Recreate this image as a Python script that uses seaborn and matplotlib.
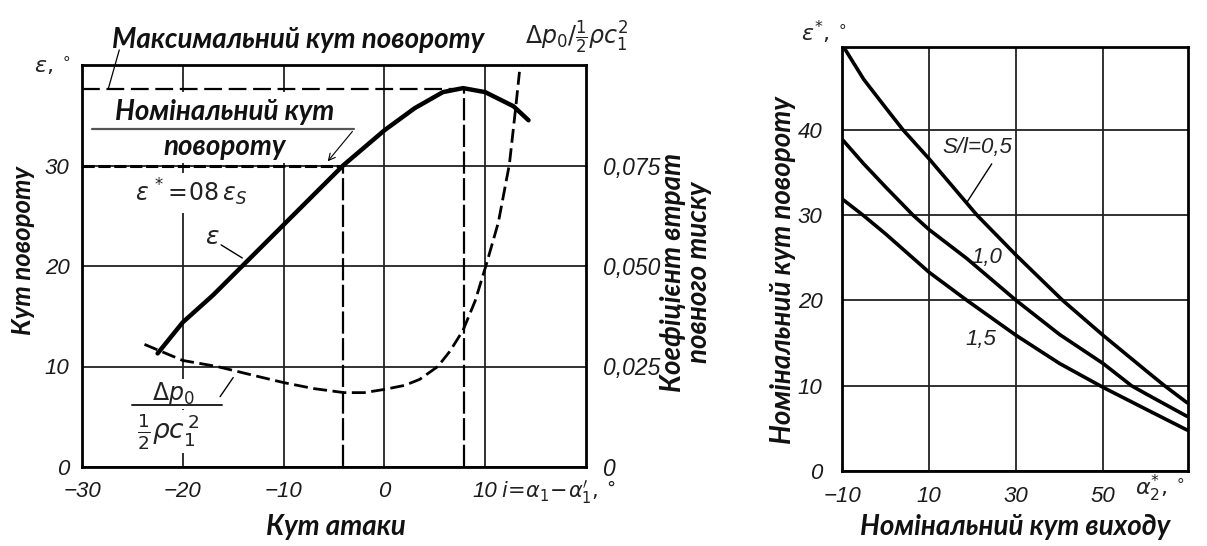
import numpy as np
import pandas as pd
import matplotlib
matplotlib.use("Agg")
import matplotlib.pyplot as plt
import seaborn as sns

# ---------------- data: left panel ----------------
attack_angle = [-22.5, -20.0, -17.0, -14.1, -10.0, -4.1, 0.0, 3.0, 5.8, 7.8, 10.0, 12.8, 14.3]
turning_angle = [11.3, 14.4, 17.1, 20.0, 24.1, 30.0, 33.5, 35.7, 37.3, 37.7, 37.3, 35.9, 34.5]

loss_angle = [-23.8, -20.0, -16.6, -13.0, -10.0, -7.0, -4.0, -2.0, 0.0, 2.0, 3.5, 5.3,
              6.5, 7.8, 9.0, 10.1, 11.3, 12.4, 13.0, 13.4]
loss_coef = [0.0305, 0.0265, 0.0250, 0.0228, 0.0210, 0.0195, 0.0185, 0.0185, 0.0193, 0.0203,
             0.0218, 0.0250, 0.0288, 0.0340, 0.0413, 0.0503, 0.0608, 0.0753, 0.0888, 0.0983]

eps_nominal = 30.0
i_nominal = -4.1
eps_max = 37.6
i_max = 7.9

left_xticks = [-30, -20, -10, 0, 10]
left_yticks = [0, 10, 20, 30]
loss_ticks = [0, 0.025, 0.050, 0.075]
loss_ticklabels = ["0", "0,025", "0,050", "0,075"]

# ---------------- data: right panel ----------------
s05_x = [-9.5, -5.0, 0.0, 4.0, 10.0, 21.0, 30.0, 40.7, 50.0, 60.0, 64.1, 69.3]
s05_y = [49.6, 45.9, 42.6, 40.0, 36.6, 30.0, 25.3, 20.0, 15.9, 11.7, 10.0, 8.0]
s10_x = [-10.0, -5.0, 0.0, 6.3, 10.0, 18.7, 30.0, 40.0, 50.0, 56.5, 60.0, 69.3]
s10_y = [38.9, 36.0, 33.3, 30.0, 28.3, 24.9, 20.0, 16.0, 12.6, 10.0, 9.0, 6.4]
s15_x = [-10.0, -5.2, 0.0, 10.0, 18.7, 30.0, 40.0, 50.0, 60.0, 69.3]
s15_y = [31.9, 30.0, 27.8, 23.3, 20.0, 15.9, 12.6, 9.8, 7.2, 4.8]

right_xticks = [-10, 10, 30, 50]
right_yticks = [0, 10, 20, 30, 40]

# ---------------- style ----------------
sns.set_theme(style="white")
plt.rcParams["font.family"] = ["DejaVu Sans"]
plt.rcParams["mathtext.fontset"] = "dejavusans"

LABEL_FONT = ["Lato", "DejaVu Sans"]
TICK_FONT = ["Liberation Sans Narrow", "Liberation Sans", "DejaVu Sans"]
INK = "#1a1a1a"

W, H = 1207, 546
fig = plt.figure(figsize=(W / 100, H / 100), dpi=100)
fig.patch.set_facecolor("white")


def px(x, y):
    return x / W, 1 - y / H


ax_l = fig.add_axes([82 / W, 1 - 467 / H, (586 - 82) / W, (467 - 65) / H])
ax_r = fig.add_axes([842 / W, 1 - 471 / H, (1188 - 842) / W, (471 - 47) / H])

for ax in (ax_l, ax_r):
    ax.set_facecolor("white")
    for s in ax.spines.values():
        s.set_color("black")
        s.set_linewidth(2.0)
    ax.grid(True, color="#222222", linewidth=1.3)
    ax.set_axisbelow(True)
    ax.tick_params(length=0)

# ---- left panel ----
ax_l.set_xlim(-30, 20)
ax_l.set_ylim(0, 40)
ax_l.set_xticks(left_xticks)
ax_l.set_xticklabels([str(v).replace("-", "\u2212") for v in left_xticks])
ax_l.set_yticks(left_yticks)
ax_l.set_yticklabels([str(v) for v in left_yticks])
ax_l.tick_params(axis="x", pad=10)
ax_l.tick_params(axis="y", pad=9)
for lab in ax_l.get_xticklabels() + ax_l.get_yticklabels():
    lab.set_family(TICK_FONT)
    lab.set_style("italic")
    lab.set_fontsize(16)
    lab.set_color(INK)

sns.lineplot(x=attack_angle, y=turning_angle, ax=ax_l, color="black", linewidth=3.2,
             sort=False, estimator=None, zorder=5)

ax_l.hlines(eps_nominal, -30, i_nominal, colors="black", linewidth=2.2,
            linestyles=(0, (4, 1.2)), zorder=4)
ax_l.vlines(i_nominal, 0, eps_nominal, colors="black", linewidth=1.6,
            linestyles=(0, (10, 2)), zorder=4)
ax_l.hlines(eps_max, -30, i_max, colors="black", linewidth=1.6,
            linestyles=(0, (8, 3)), zorder=4)
ax_l.vlines(i_max, 0, eps_max, colors="black", linewidth=1.6,
            linestyles=(0, (10, 2)), zorder=4)

ax_t = ax_l.twinx()
ax_t.set_ylim(0, 0.1)
ax_t.set_yticks(loss_ticks)
ax_t.set_yticklabels(loss_ticklabels)
ax_t.tick_params(length=0, pad=12)
ax_t.grid(False)
for s in ax_t.spines.values():
    s.set_visible(False)
for lab in ax_t.get_yticklabels():
    lab.set_family(TICK_FONT)
    lab.set_style("italic")
    lab.set_fontsize(16.5)
    lab.set_color(INK)
sns.lineplot(x=loss_angle, y=loss_coef, ax=ax_t, color="black", linewidth=2.0,
             linestyle=(0, (5, 2)), sort=False, estimator=None)
ax_t.set_xlim(-30, 20)

lab_kw = dict(family=LABEL_FONT, weight="bold", style="italic", color="#111111")

# header labels of the left panel
fig.text(*px(112, 40), "Максимальний кут повороту", ha="left", va="center",
         fontsize=20, **lab_kw)
ax_l.plot([-26.3, -27.4], [41.5, 37.6], color="black", lw=0.9, clip_on=False)

ax_l.text(-15.9, 35.3, "Номінальний кут", ha="center", va="center", fontsize=20,
          bbox=dict(facecolor="white", edgecolor="none", pad=5), zorder=6, **lab_kw)
ax_l.plot([-29.0, -3.0], [33.6, 33.6], color="#555555", lw=1.6, zorder=7)
ax_l.text(-15.8, 31.8, "повороту", ha="center", va="center", fontsize=20,
          bbox=dict(facecolor="white", edgecolor="none", pad=2), zorder=6, **lab_kw)
ax_l.annotate("", xy=(-5.8, 30.2), xytext=(-3.0, 33.6),
              arrowprops=dict(arrowstyle="->", color="black", lw=0.8), zorder=8)

ax_l.text(-19.2, 27.3, r"$\varepsilon^{\,*}\!=\!\mathit{08}\,\varepsilon_S$", ha="center",
          va="center", fontsize=17, color="#222222",
          bbox=dict(facecolor="white", edgecolor="none", pad=3), zorder=6)
ax_l.text(-17.1, 22.9, r"$\varepsilon$", ha="center", va="center", fontsize=18, color="#222222")
ax_l.plot([-16.2, -14.1], [22.1, 20.8], color="black", lw=1.0)

# fraction label of the loss curve
ax_l.text(-20.9, 7.3, r"$\Delta p_0$", ha="center", va="center", fontsize=17,
          color="#222222", bbox=dict(facecolor="white", edgecolor="none", pad=1), zorder=6)
ax_l.plot([-25.0, -16.1], [6.2, 6.2], color="#222222", lw=1.4, zorder=7)
ax_l.text(-21.4, 3.5, r"$\frac{1}{2}\rho c_1^{\,2}$", ha="center", va="center",
          fontsize=19, color="#222222",
          bbox=dict(facecolor="white", edgecolor="none", pad=1), zorder=6)
ax_l.plot([-16.3, -15.0], [7.0, 8.9], color="black", lw=1.0)

fig.text(*px(52, 66), r"$\varepsilon,\,^{\circ}$", ha="center", va="center", fontsize=16,
         color="#222222")
fig.text(*px(577, 37), r"$\Delta p_0/\frac{1}{2}\rho c_1^2$", ha="center", va="center",
         fontsize=17, color="#222222")
fig.text(*px(501, 492), r"$i\!=\!\alpha_1\!-\!\alpha_1^{\prime},$", ha="left",
         va="center", fontsize=15, color="#222222")
fig.text(*px(611, 489), "°", ha="center", va="center", fontsize=13, color="#222222")

fig.text(*px(23, 251), "Кут повороту", rotation=90, ha="center", va="center",
         fontsize=18.5, **lab_kw)
fig.text(*px(336, 527), "Кут атаки", ha="center", va="center", fontsize=20, **lab_kw)
fig.text(*px(673, 272), "Коефіцієнт втрат", rotation=90, ha="center", va="center",
         fontsize=20, **lab_kw)
fig.text(*px(699, 272), "повного тиску", rotation=90, ha="center", va="center",
         fontsize=20, **lab_kw)

# ---- right panel ----
ax_r.set_xlim(-10, 69.5)
ax_r.set_ylim(0, 49.7)
ax_r.set_xticks(right_xticks)
ax_r.set_xticklabels([str(v).replace("-", "\u2212") for v in right_xticks])
ax_r.set_yticks(right_yticks)
ax_r.set_yticklabels([str(v) for v in right_yticks])
ax_r.tick_params(axis="x", pad=11)
ax_r.tick_params(axis="y", pad=14)
for lab in ax_r.get_xticklabels() + ax_r.get_yticklabels():
    lab.set_family(TICK_FONT)
    lab.set_style("italic")
    lab.set_fontsize(16)
    lab.set_color(INK)

for xs, ys in ((s05_x, s05_y), (s10_x, s10_y), (s15_x, s15_y)):
    sns.lineplot(x=xs, y=ys, ax=ax_r, color="black", linewidth=2.6, sort=False,
                 estimator=None, zorder=5)

ax_r.text(21.0, 37.9, "S/l=0,5", ha="center", va="center", fontsize=16,
          family=TICK_FONT, style="italic", color="#222222")
ax_r.plot([24.4, 18.7], [36.0, 31.5], color="black", lw=1.0)
ax_r.text(23.3, 25.0, "1,0", ha="center", va="center", fontsize=16,
          family=TICK_FONT, style="italic", color="#222222")
ax_r.text(21.9, 15.4, "1,5", ha="center", va="center", fontsize=16,
          family=TICK_FONT, style="italic", color="#222222")

fig.text(*px(824, 32), r"$\varepsilon^{*},\,^{\circ}$", ha="center", va="center",
         fontsize=16, color="#222222")
fig.text(*px(1160, 488), r"$\alpha_2^{*},\,^{\circ}$", ha="center", va="center",
         fontsize=16, color="#222222")
fig.text(*px(783, 270), "Номінальний кут повороту", rotation=90, ha="center",
         va="center", fontsize=20, **lab_kw)
fig.text(*px(1015, 527), "Номінальний кут виходу", ha="center", va="center",
         fontsize=20, **lab_kw)

fig.savefig("out.png", dpi=100, facecolor="white")
